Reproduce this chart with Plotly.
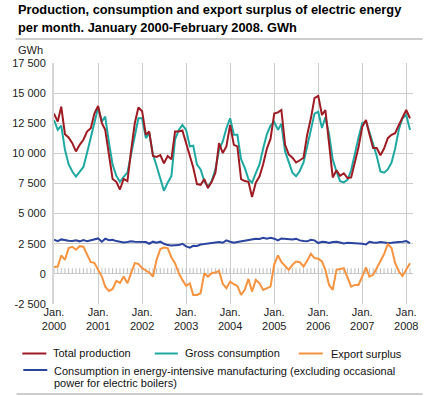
import plotly.graph_objects as go
import pandas as pd

# ---------------- data (GWh per month, Jan 2000 - Feb 2008) ----------------
months = pd.date_range("2000-01-01", "2008-02-01", freq="MS")

total_production = [
    13300, 12640, 13870, 11590, 11320, 10850, 10160, 10710, 11130, 11810, 12090, 13300,  # 2000
    13930, 12500, 11950, 9700, 7880, 7640, 7000, 7880, 7700, 10160, 12500, 13800,        # 2001
    13500, 11540, 11810, 9780, 9700, 9860, 9180, 9780, 9510, 11810, 11810, 11900,         # 2002
    10850, 9780, 8820, 7450, 7390, 7860, 7120, 7640, 8400, 10850, 10030, 10580,           # 2003
    12360, 10710, 10580, 7860, 7700, 7640, 6380, 7570, 8100, 9100, 10400, 11200,          # 2004
    13300, 13400, 13600, 10710, 9910, 9640, 9240, 9430, 9640, 11540, 12910, 14590,        # 2005
    14780, 13190, 13600, 10800, 8000, 8600, 8130, 8350, 7950, 8000, 9300, 10500,          # 2006
    12200, 12770, 11600, 10440, 10440, 9840, 10400, 11260, 11540, 11680, 12360, 13000,    # 2007
    13600, 12910,                                                                          # 2008
]

gross_consumption = [
    12770, 11950, 12300, 10300, 9100, 8490, 8080, 8490, 8870, 10030, 11260, 12500,        # 2000
    13800, 12640, 13050, 10900, 9070, 8130, 7640, 8050, 8400, 9910, 11540, 12910,         # 2001
    12910, 11260, 11680, 9910, 8950, 7860, 6900, 7570, 8130, 11130, 11950, 12360,         # 2002
    11950, 10580, 10640, 9070, 8670, 7700, 7220, 7700, 8670, 10300, 10990, 12090,         # 2003
    12910, 11540, 11540, 9510, 8820, 7860, 7570, 8370, 9100, 10400, 11600, 12300,         # 2004
    12600, 11950, 12450, 10160, 9370, 8400, 8100, 8540, 9240, 10710, 11950, 13300,        # 2005
    13450, 12100, 13000, 11600, 9500, 8500, 7700, 7600, 7800, 8600, 10100, 11300,         # 2006
    12500, 12640, 11800, 10850, 9780, 8500, 8400, 8670, 9240, 10400, 12000, 12910,        # 2007
    13190, 11950,                                                                          # 2008
]

export_surplus = [
    560, 610, 1530, 1170, 2140, 2250, 2000, 2300, 2250, 1640, 970, 920,                   # 2000
    330, -220, -1060, -1420, -1250, -580, -750, -220, -780, -30, 890, 830,                # 2001
    470, 280, 110, -220, 1170, 2060, 2190, 2140, 1360, 890, 60, -500,                     # 2002
    -1000, -780, -1750, -1750, -1610, 60, -220, 60, 110, 250, -830, -1190,                # 2003
    -640, -860, -1000, -1750, -1330, -420, -1470, -500, -780, -1330, -1190, -1060,        # 2004
    800, 1530, 1000, 650, 330, 750, 1030, 970, 610, 1080, 1670, 1310,                     # 2005
    1250, 1030, 330, -920, -1330, 330, 420, 470, -310, -1060, -920, -920,                 # 2006
    -220, 530, -220, -80, 470, 1030, 1640, 2470, 2140, 890, 190, -170,                    # 2007
    330, 890,                                                                              # 2008
]

energy_intensive = [
    2830, 2720, 2860, 2780, 2750, 2720, 2780, 2700, 2800, 2720, 2800, 2890,               # 2000
    2940, 2670, 2920, 2800, 2830, 2720, 2640, 2610, 2640, 2700, 2670, 2670,               # 2001
    2640, 2640, 2500, 2670, 2580, 2670, 2500, 2390, 2360, 2390, 2390, 2500,               # 2002
    2280, 2170, 2330, 2310, 2440, 2470, 2500, 2580, 2560, 2640, 2580, 2780,               # 2003
    2670, 2580, 2640, 2700, 2720, 2780, 2830, 2920, 2890, 3000, 2920, 3000,               # 2004
    2920, 2780, 2940, 2920, 2890, 2860, 2920, 2780, 2720, 2700, 2830, 2780,               # 2005
    2560, 2670, 2640, 2560, 2640, 2670, 2610, 2530, 2580, 2560, 2530, 2560,               # 2006
    2500, 2440, 2670, 2610, 2580, 2640, 2580, 2560, 2580, 2580, 2640, 2670,               # 2007
    2720, 2560,                                                                            # 2008
]

y_tick_values = [-2500, 0, 2500, 5000, 7500, 10000, 12500, 15000, 17500]
y_tick_labels = ["-2 500", "0", "2 500", "5 000", "7 500", "10 000", "12 500", "15 000", "17 500"]
x_tick_years = [2000, 2001, 2002, 2003, 2004, 2005, 2006, 2007, 2008]
x_tick_values = [f"{y}-01-01" for y in x_tick_years]
x_tick_labels = [f"Jan.<br>{y}" for y in x_tick_years]

title_lines = ["Production, consumption and export surplus of electric energy",
               "per month. January 2000-February 2008. GWh"]
series_names = ["Total production", "Gross consumption", "Export surplus",
                "Consumption in energy-intensive manufacturing (excluding occasional power for electric boilers)"]

# ---------------- style ----------------
RED, CYAN, ORANGE, BLUE = "#9e1b23", "#1ea8a2", "#f7933f", "#2a44a0"
GRID = "#cccccc"
FONT = "Liberation Sans, Arial, sans-serif"
W, H = 430, 396
L, R, T, B = 43, 417, 63, 304


def px(x):
    return (x - L) / (R - L)


def py(y):
    return (B - y) / (B - T)


fig = go.Figure()

# monthly hatch marks on the zero line
fig.add_trace(go.Scatter(
    x=months, y=[0] * len(months), mode="markers",
    marker=dict(size=0.1, color="rgba(0,0,0,0)"),
    error_y=dict(type="constant", value=470, valueminus=0, symmetric=False,
                 width=0, thickness=1, color="#bdbdbd"),
    showlegend=False, hoverinfo="skip"))

fig.add_trace(go.Scatter(x=months, y=energy_intensive, mode="lines", name=series_names[3],
                         line=dict(color=BLUE, width=2), showlegend=False))
fig.add_trace(go.Scatter(x=months, y=export_surplus, mode="lines", name=series_names[2],
                         line=dict(color=ORANGE, width=2), showlegend=False))
fig.add_trace(go.Scatter(x=months, y=gross_consumption, mode="lines", name=series_names[1],
                         line=dict(color=CYAN, width=2), showlegend=False))
fig.add_trace(go.Scatter(x=months, y=total_production, mode="lines", name=series_names[0],
                         line=dict(color=RED, width=2), showlegend=False))

annotations = []
shapes = []

# title
TITLE_SIZE = 12.8
annotations.append(dict(x=px(3), y=py(10), xref="paper", yref="paper", xanchor="left", yanchor="middle",
                        text=f"<b>{title_lines[0]}</b>", showarrow=False,
                        font=dict(family=FONT, size=TITLE_SIZE, color="#000")))
annotations.append(dict(x=px(3), y=py(27), xref="paper", yref="paper", xanchor="left", yanchor="middle",
                        text=f"<b>{title_lines[1]}</b>", showarrow=False,
                        font=dict(family=FONT, size=TITLE_SIZE, color="#000")))
shapes.append(dict(type="line", xref="paper", yref="paper", x0=px(3), x1=px(427), y0=py(39), y1=py(39),
                   line=dict(color="#bdbdbd", width=1.5)))
annotations.append(dict(x=px(3), y=py(50), xref="paper", yref="paper", xanchor="left", yanchor="middle",
                        text="GWh", showarrow=False, font=dict(family=FONT, size=11, color="#222")))

# legend (manual)
legend_items = [
    (series_names[0], RED, 10, 35, 353.5, 40, 353),
    (series_names[1], CYAN, 148, 172, 353.5, 177, 353),
    (series_names[2], ORANGE, 298, 323, 353.5, 329, 354),
]
for name, col, x0, x1, yl, xt, yt in legend_items:
    shapes.append(dict(type="line", xref="paper", yref="paper", x0=px(x0), x1=px(x1), y0=py(yl), y1=py(yl),
                       line=dict(color=col, width=2)))
    annotations.append(dict(x=px(xt), y=py(yt), xref="paper", yref="paper", xanchor="left", yanchor="middle",
                            text=name, showarrow=False, font=dict(family=FONT, size=11, color="#111")))
shapes.append(dict(type="line", xref="paper", yref="paper", x0=px(11), x1=px(36), y0=py(370), y1=py(370),
                   line=dict(color=BLUE, width=2)))
blue_text = series_names[3].split(" power")
annotations.append(dict(x=px(41), y=py(371), xref="paper", yref="paper", xanchor="left", yanchor="middle",
                        text=blue_text[0], showarrow=False, font=dict(family=FONT, size=11, color="#111")))
annotations.append(dict(x=px(41), y=py(383), xref="paper", yref="paper", xanchor="left", yanchor="middle",
                        text="power" + blue_text[1], showarrow=False, font=dict(family=FONT, size=11, color="#111")))
shapes.append(dict(type="line", xref="paper", yref="paper", x0=px(4), x1=px(427), y0=py(394), y1=py(394),
                   line=dict(color="#bdbdbd", width=1.5)))

fig.update_layout(
    width=W, height=H,
    margin=dict(l=L, r=W - R, t=T, b=H - B, pad=0),
    paper_bgcolor="white", plot_bgcolor="white",
    font=dict(family=FONT, size=11, color="#222"),
    showlegend=False,
    annotations=annotations, shapes=shapes,
    xaxis=dict(type="date", range=["2000-01-01", "2008-02-26"],
               tickmode="array", tickvals=x_tick_values, ticktext=x_tick_labels,
               showgrid=True, gridcolor=GRID, gridwidth=1, ticks="", zeroline=False,
               showline=False, tickfont=dict(family=FONT, size=11, color="#222")),
    yaxis=dict(range=[-2500, 17500], tickmode="array", tickvals=y_tick_values, ticktext=y_tick_labels,
               showgrid=True, gridcolor=GRID, gridwidth=1, ticks="", zeroline=False,
               showline=True, linecolor="#d6d6d6", linewidth=2, ticklabelstandoff=4,
               tickfont=dict(family=FONT, size=11, color="#222")),
)

# remove the browser's default 8px page margin so the figure sits at the window origin
fig.write_html("out.html", config={"displayModeBar": False},
               post_script="document.body.style.margin='0';")
